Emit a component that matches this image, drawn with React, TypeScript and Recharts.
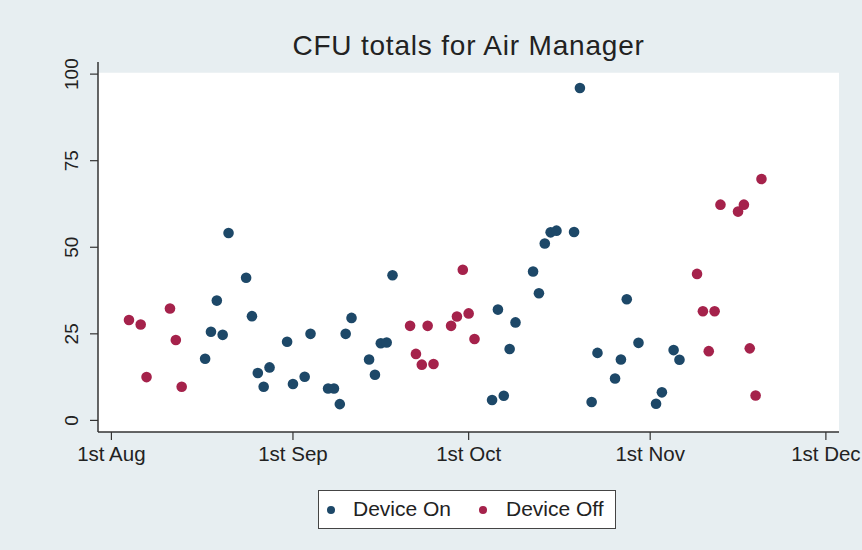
import React from "react";
import { ScatterChart, Scatter, XAxis, YAxis, ReferenceArea } from "recharts";

const title = "CFU totals for Air Manager";
const seriesNames = ["Device On", "Device Off"];
const seriesColors = ["#1d4868", "#a5224b"];

const onDates = [
  "2013-08-17", "2013-08-18", "2013-08-19", "2013-08-20", "2013-08-21", "2013-08-24",
  "2013-08-25", "2013-08-26", "2013-08-27", "2013-08-28", "2013-08-31", "2013-09-01",
  "2013-09-03", "2013-09-04", "2013-09-07", "2013-09-08", "2013-09-09", "2013-09-10",
  "2013-09-11", "2013-09-14", "2013-09-15", "2013-09-16", "2013-09-17", "2013-09-18",
  "2013-10-05", "2013-10-06", "2013-10-07", "2013-10-08", "2013-10-09", "2013-10-12",
  "2013-10-13", "2013-10-14", "2013-10-15", "2013-10-16", "2013-10-19", "2013-10-20",
  "2013-10-22", "2013-10-23", "2013-10-26", "2013-10-27", "2013-10-28", "2013-10-30",
  "2013-11-02", "2013-11-03", "2013-11-05", "2013-11-06",
];
const onValues = [
  17.8, 25.6, 34.6, 24.7, 54.1, 41.2,
  30.1, 13.7, 9.7, 15.3, 22.7, 10.5,
  12.6, 25.0, 9.2, 9.2, 4.7, 25.0,
  29.6, 17.6, 13.2, 22.3, 22.5, 41.9,
  5.9, 32.0, 7.1, 20.6, 28.3, 43.0,
  36.7, 51.1, 54.3, 54.8, 54.4, 96.0,
  5.3, 19.5, 12.1, 17.6, 35.0, 22.4,
  4.8, 8.1, 20.3, 17.5,
];

const offDates = [
  "2013-08-04", "2013-08-06", "2013-08-07", "2013-08-11", "2013-08-12", "2013-08-13",
  "2013-09-21", "2013-09-22", "2013-09-23", "2013-09-24", "2013-09-25", "2013-09-28",
  "2013-09-29", "2013-09-30", "2013-10-01", "2013-10-02",
  "2013-11-09", "2013-11-10", "2013-11-11", "2013-11-12", "2013-11-13", "2013-11-16",
  "2013-11-17", "2013-11-18", "2013-11-19", "2013-11-20",
];
const offValues = [
  29.0, 27.7, 12.5, 32.3, 23.2, 9.7,
  27.3, 19.2, 16.1, 27.3, 16.3, 27.3,
  30.0, 43.5, 30.9, 23.5,
  42.3, 31.5, 20.0, 31.5, 62.3, 60.3,
  62.3, 20.8, 7.2, 69.7,
];

const xTickDates = ["2013-08-01", "2013-09-01", "2013-10-01", "2013-11-01", "2013-12-01"];
const xTickLabels = ["1st Aug", "1st Sep", "1st Oct", "1st Nov", "1st Dec"];
const yTicks = [0, 25, 50, 75, 100];

const DAY = 86400000;
const toMs = (s: string) => new Date(s + "T00:00:00Z").getTime();
const xTicks = xTickDates.map(toMs);
const xDomain = [xTicks[0] - 2.29 * DAY, xTicks[0] + 124.24 * DAY];
const yDomain = [-3.35, 103.5];

const onData = onDates.map((d, i) => ({ x: toMs(d), y: onValues[i] }));
const offData = offDates.map((d, i) => ({ x: toMs(d), y: offValues[i] }));

const FONT = "'Liberation Sans', Arial, Helvetica, sans-serif";
const TEXT = "#222";
const AXIS = "#333";

const XTick = (props: any) => {
  const { x, y, payload } = props;
  const idx = xTicks.indexOf(payload.value);
  return (
    <text x={x} y={y + 19} textAnchor="middle" fontFamily={FONT} fontSize={20.5} fill={TEXT}>
      {idx >= 0 ? xTickLabels[idx] : ""}
    </text>
  );
};

const YTick = (props: any) => {
  const { y, payload } = props;
  const bx = 78;
  return (
    <text
      x={bx}
      y={y}
      textAnchor="middle"
      transform={`rotate(-90, ${bx}, ${y})`}
      fontFamily={FONT}
      fontSize={19}
      fill={TEXT}
    >
      {payload.value}
    </text>
  );
};

const makeDot = (color: string) => (p: any) => (
  <circle cx={p.cx} cy={p.cy} r={5.3} fill={color} />
);

const legendMarkerX = [12, 164];
const legendTextX = [34, 187];

export default function App() {
  return (
    <div
      style={{
        position: "absolute",
        left: 0,
        top: 0,
        width: 862,
        height: 550,
        background: "#e7eef1",
        fontFamily: FONT,
      }}
    >
      <div
        style={{
          position: "absolute",
          left: 98,
          width: 741,
          top: 31,
          textAlign: "center",
          fontSize: 28,
          letterSpacing: 0.8,
          color: TEXT,
          lineHeight: "30px",
          whiteSpace: "nowrap",
        }}
      >
        {title}
      </div>
      <ScatterChart width={862} height={550} margin={{ top: 62, right: 23, bottom: 0, left: 0 }}>
        <ReferenceArea
          x1={xDomain[0]}
          x2={xDomain[1]}
          y1={yDomain[0]}
          y2={100.4}
          fill="#ffffff"
          fillOpacity={1}
          stroke="none"
          ifOverflow="hidden"
        />
        <XAxis
          type="number"
          dataKey="x"
          domain={xDomain}
          ticks={xTicks}
          allowDataOverflow
          height={118}
          axisLine={{ stroke: AXIS, strokeWidth: 1.5 }}
          tickLine={{ stroke: AXIS, strokeWidth: 1.2 }}
          tickSize={8}
          tick={<XTick />}
          interval={0}
        />
        <YAxis
          type="number"
          dataKey="y"
          domain={yDomain}
          ticks={yTicks}
          allowDataOverflow
          width={98}
          axisLine={{ stroke: AXIS, strokeWidth: 1.5 }}
          tickLine={{ stroke: AXIS, strokeWidth: 1.2 }}
          tickSize={8}
          tick={<YTick />}
          interval={0}
        />
        <Scatter
          name={seriesNames[0]}
          data={onData}
          fill={seriesColors[0]}
          shape={makeDot(seriesColors[0])}
          isAnimationActive={false}
        />
        <Scatter
          name={seriesNames[1]}
          data={offData}
          fill={seriesColors[1]}
          shape={makeDot(seriesColors[1])}
          isAnimationActive={false}
        />
      </ScatterChart>
      <div
        style={{
          position: "absolute",
          left: 318,
          top: 490,
          width: 298,
          height: 39,
          boxSizing: "border-box",
          border: "1.5px solid #444",
          background: "#ffffff",
          fontSize: 21,
          color: TEXT,
        }}
      >
        {seriesNames.map((n, i) => (
          <React.Fragment key={n}>
            <svg
              width={10}
              height={10}
              style={{ position: "absolute", left: legendMarkerX[i] - 5, top: 13.5 }}
            >
              <circle cx={5} cy={5} r={4} fill={seriesColors[i]} />
            </svg>
            <span
              style={{
                position: "absolute",
                left: legendTextX[i],
                top: 5,
                lineHeight: "26px",
                whiteSpace: "nowrap",
              }}
            >
              {n}
            </span>
          </React.Fragment>
        ))}
      </div>
    </div>
  );
}
